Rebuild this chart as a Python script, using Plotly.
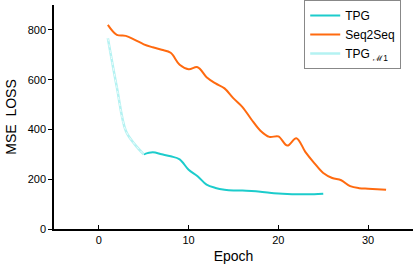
import plotly.graph_objects as go

seq_epochs = list(range(1, 33))
seq_loss = [820, 780, 776, 760, 742, 730, 720, 708, 660, 642, 650, 610, 585, 565, 525, 490,
            440, 395, 370, 372, 335, 365, 310, 265, 225, 205, 196, 172, 164, 162, 160, 158]

tpg_epochs = list(range(5, 26))
tpg_loss = [300, 308, 300, 292, 280, 238, 212, 178, 165, 158, 155, 155, 153, 150, 146, 143,
            141, 140, 140, 140, 142]

m1_epochs = [1, 2, 3, 4, 5]
m1_loss = [767, 570, 395, 340, 300]

x_ticks = [0, 10, 20, 30]
y_ticks = [0, 200, 400, 600, 800]

FONT = "Liberation Sans, Arial, sans-serif"

fig = go.Figure()
fig.add_trace(go.Scatter(x=tpg_epochs, y=tpg_loss, mode="lines", name="TPG",
                         line=dict(color="#1ccccc", width=2, shape="spline")))
fig.add_trace(go.Scatter(x=seq_epochs, y=seq_loss, mode="lines", name="Seq2Seq",
                         line=dict(color="#ff6a0f", width=2, shape="spline")))
fig.add_trace(go.Scatter(x=m1_epochs, y=m1_loss, mode="lines", name="TPG <sub>ℳ1</sub>",
                         line=dict(color="#b4f2f2", width=2.5, shape="spline")))
fig.add_trace(go.Scatter(x=m1_epochs, y=m1_loss, mode="lines", showlegend=False, hoverinfo="skip",
                         line=dict(color="#ffffff", width=0.8, dash="dot", shape="spline")))

fig.update_layout(
    width=414, height=270,
    margin=dict(l=54, r=1, t=4, b=41),
    paper_bgcolor="white", plot_bgcolor="white",
    font=dict(family=FONT, color="black", size=11),
    showlegend=True,
    legend=dict(x=0.697, y=1.02, xanchor="left", yanchor="top",
                bordercolor="#888888", borderwidth=1, bgcolor="white",
                font=dict(size=12, family=FONT), tracegroupgap=0,
                itemwidth=30),
    xaxis=dict(range=[-5, 35], tickvals=x_ticks, ticks="inside", ticklen=4,
               showline=True, linecolor="black", linewidth=1.5, tickcolor="black",
               showgrid=False, zeroline=False,
               title=dict(text="Epoch", font=dict(size=14), standoff=6)),
    yaxis=dict(range=[0, 900], tickvals=y_ticks, ticks="outside", ticklen=4,
               showline=True, linecolor="black", linewidth=1.5, tickcolor="black",
               showgrid=False, zeroline=False,
               title=dict(text="MSE  LOSS", font=dict(size=14), standoff=8)),
)

fig.write_html("out.html", config={"displayModeBar": False},
               post_script="document.body.style.margin='0';")
